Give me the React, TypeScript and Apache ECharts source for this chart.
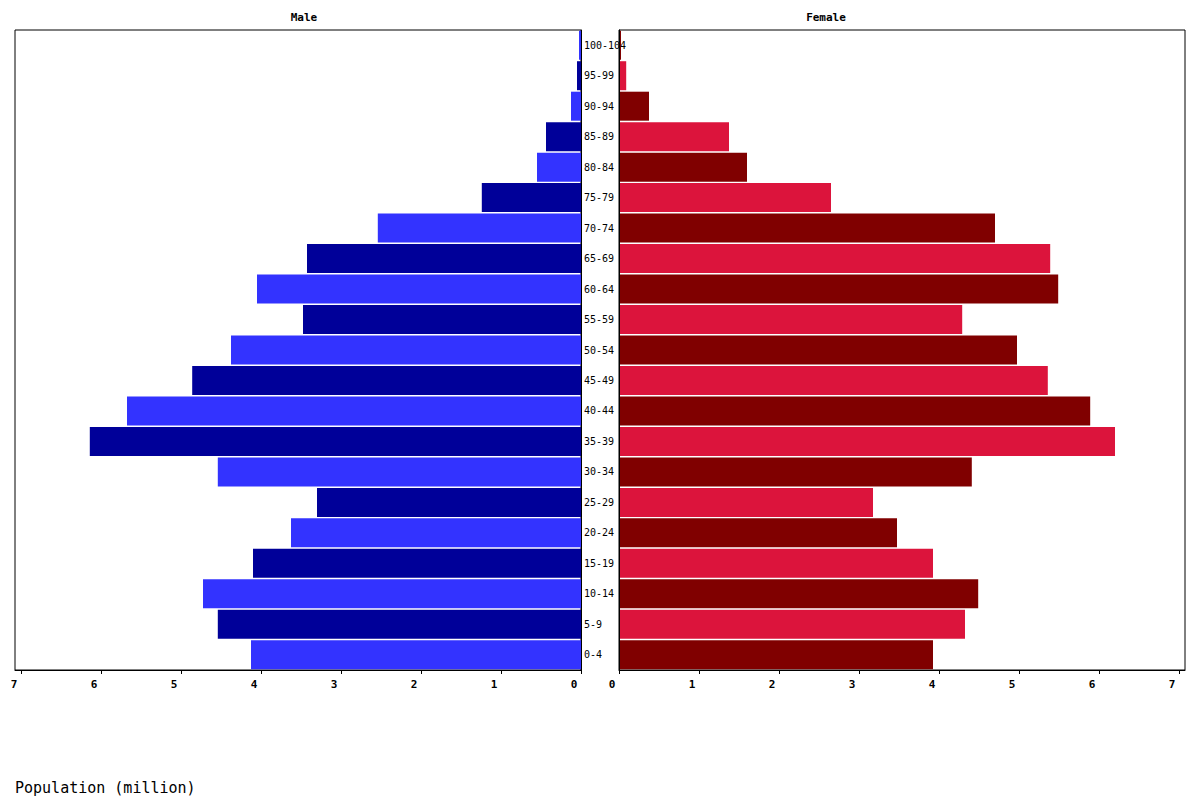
import { useEffect, useRef } from "react";
import * as echarts from "echarts";

// age groups, bottom to top
const AGE_GROUPS = [
  "0-4", "5-9", "10-14", "15-19", "20-24", "25-29", "30-34", "35-39",
  "40-44", "45-49", "50-54", "55-59", "60-64", "65-69", "70-74", "75-79",
  "80-84", "85-89", "90-94", "95-99", "100-104",
];

// population in millions
const MALE = [
  4.125, 4.54, 4.725, 4.1, 3.625, 3.3, 4.54, 6.14, 5.675, 4.86, 4.375,
  3.475, 4.05, 3.425, 2.54, 1.24, 0.55, 0.4375, 0.125, 0.05, 0.025,
];
const FEMALE = [
  3.925, 4.325, 4.49, 3.925, 3.475, 3.175, 4.41, 6.2, 5.89, 5.36, 4.975,
  4.29, 5.49, 5.39, 4.7, 2.65, 1.6, 1.375, 0.375, 0.09, 0.025,
];

const X_TICKS = [0, 1, 2, 3, 4, 5, 6, 7];
const X_MAX = 7.075;

const MALE_COLORS = ["#3333FF", "#000099"];
const FEMALE_COLORS = ["#800000", "#DC143C"];

const FONT = "'DejaVu Sans Mono', monospace";

function valueAxis(gridIndex: number, inverse: boolean) {
  return {
    type: "value",
    gridIndex,
    min: 0,
    max: X_MAX,
    inverse,
    splitLine: { show: false },
    axisLine: { show: true, lineStyle: { color: "#000", width: 1 } },
    axisTick: {
      show: true,
      length: 4,
      customValues: X_TICKS,
      lineStyle: { color: "#000" },
    },
    axisLabel: {
      customValues: X_TICKS,
      color: "#000",
      fontFamily: FONT,
      fontWeight: "bold",
      fontSize: 11,
      margin: 9,
      padding: [0, 14, 0, 0],
    },
  };
}

export default function App() {
  const ref = useRef<HTMLDivElement | null>(null);

  useEffect(() => {
    document.body.style.margin = "0";
    const el = ref.current;
    if (!el) {
      return;
    }
    const chart = echarts.init(el, null, { renderer: "svg" });

    const option = {
      animation: false,
      backgroundColor: "#fff",
      grid: [
        {
          left: 15,
          top: 30,
          width: 566,
          height: 640,
          show: true,
          borderColor: "#000",
          borderWidth: 1,
        },
        {
          left: 619,
          top: 30,
          width: 566,
          height: 640,
          show: true,
          borderColor: "#000",
          borderWidth: 1,
        },
      ],
      xAxis: [valueAxis(0, true), valueAxis(1, false)],
      yAxis: [
        {
          type: "category",
          gridIndex: 0,
          position: "right",
          data: AGE_GROUPS,
          axisLine: { show: true, lineStyle: { color: "#000" } },
          axisTick: { show: false },
          axisLabel: { show: false },
        },
        {
          type: "category",
          gridIndex: 1,
          position: "left",
          data: AGE_GROUPS,
          axisLine: { show: true, lineStyle: { color: "#000" } },
          axisTick: { show: false },
          axisLabel: {
            align: "left",
            margin: 35,
            color: "#000",
            fontFamily: FONT,
            fontSize: 10,
          },
          z: 10,
        },
      ],
      series: [
        {
          type: "bar",
          xAxisIndex: 0,
          yAxisIndex: 0,
          barWidth: 29,
          data: MALE.map((v, i) => ({
            value: v,
            itemStyle: { color: MALE_COLORS[i % 2] },
          })),
        },
        {
          type: "bar",
          xAxisIndex: 1,
          yAxisIndex: 1,
          barWidth: 29,
          data: FEMALE.map((v, i) => ({
            value: v,
            itemStyle: { color: FEMALE_COLORS[i % 2] },
          })),
        },
      ],
      graphic: [
        {
          type: "text",
          x: 304,
          y: 17,
          style: {
            text: "Male",
            fill: "#000",
            font: `bold 11px ${FONT}`,
            textAlign: "center",
            textVerticalAlign: "middle",
          },
        },
        {
          type: "text",
          x: 826,
          y: 17,
          style: {
            text: "Female",
            fill: "#000",
            font: `bold 11px ${FONT}`,
            textAlign: "center",
            textVerticalAlign: "middle",
          },
        },
        {
          type: "text",
          x: 15,
          y: 788,
          style: {
            text: "Population (million)",
            fill: "#000",
            font: `15px ${FONT}`,
            textAlign: "left",
            textVerticalAlign: "middle",
          },
        },
      ],
    };

    chart.setOption(option as echarts.EChartsOption);

    return () => {
      chart.dispose();
    };
  }, []);

  return <div ref={ref} style={{ width: 1200, height: 800 }} />;
}
